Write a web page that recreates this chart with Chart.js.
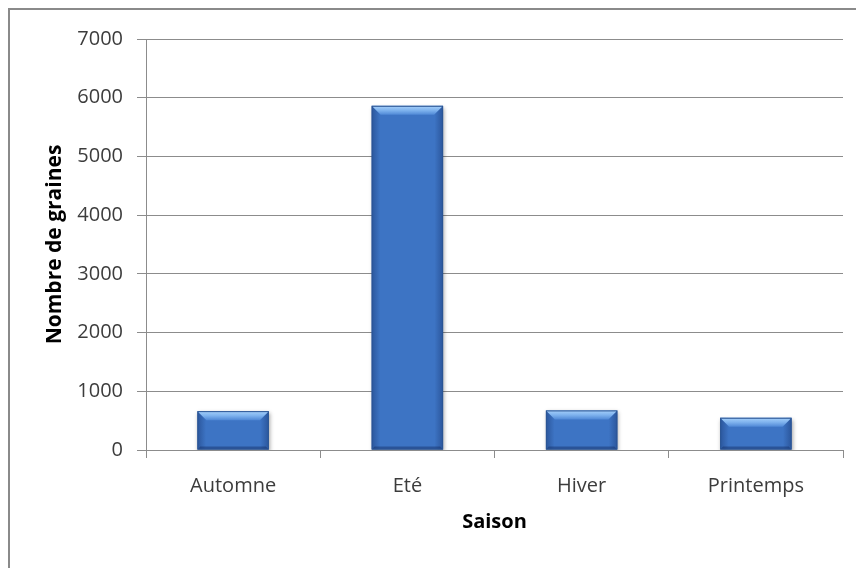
<!DOCTYPE html>
<html>
<head>
<meta charset="utf-8">
<script src="https://cdn.jsdelivr.net/npm/chart.js@4"></script>
<style>
  html, body { margin: 0; padding: 0; background: #fff; }
  #wrap { position: relative; width: 856px; height: 568px; overflow: hidden; }
  #frame { position: absolute; left: 8px; top: 8px; width: 900px; height: 600px;
           border-left: 2px solid #8a8a8a; border-top: 2px solid #8a8a8a; }
  canvas { position: absolute; left: 0; top: 0; }
</style>
</head>
<body>
<div id="wrap">
  <div id="frame"></div>
  <canvas id="graines" width="856" height="568"></canvas>
</div>
<script>
  // Nombre de graines par saison
  var saisons = ["Automne", "Eté", "Hiver", "Printemps"];
  var graines = [662, 5862, 674, 549];
  var yMax = 7000;
  var yStep = 1000;

  Chart.defaults.font.family = "'Open Sans', sans-serif";
  Chart.defaults.color = '#3c3c3c';

  // ombre portée sous les barres
  var ombre = {
    id: 'ombre',
    beforeDatasetsDraw: function (chart) {
      var ctx = chart.ctx;
      ctx.save();
      ctx.shadowColor = 'rgba(0,0,0,0.35)';
      ctx.shadowBlur = 4;
      ctx.shadowOffsetX = 1;
      ctx.shadowOffsetY = 2;
    },
    afterDatasetsDraw: function (chart) {
      chart.ctx.restore();
    }
  };

  // relief biseauté façon Excel
  var biseau = {
    id: 'biseau',
    afterDatasetsDraw: function (chart) {
      var ctx = chart.ctx;
      chart.getDatasetMeta(0).data.forEach(function (bar) {
        var p = bar.getProps(['x', 'y', 'base', 'width'], true);
        var l = p.x - p.width / 2, r = p.x + p.width / 2;
        var t = Math.min(p.y, p.base), b = Math.max(p.y, p.base);
        var e = 9;
        ctx.save();
        // assombrir les côtés
        var g = ctx.createLinearGradient(l, 0, r, 0);
        g.addColorStop(0, 'rgba(10,30,80,0.35)');
        g.addColorStop(0.12, 'rgba(10,30,80,0)');
        g.addColorStop(0.88, 'rgba(10,30,80,0)');
        g.addColorStop(1, 'rgba(10,30,80,0.35)');
        ctx.fillStyle = g;
        ctx.fillRect(l, t, r - l, b - t);
        // bord supérieur clair
        var gt = ctx.createLinearGradient(0, t, 0, t + e);
        gt.addColorStop(0, '#a6d0fa');
        gt.addColorStop(0.5, '#7fb3ee');
        gt.addColorStop(1, '#4f88d6');
        ctx.fillStyle = gt;
        ctx.beginPath();
        ctx.moveTo(l, t);
        ctx.lineTo(r, t);
        ctx.lineTo(r - e, t + e);
        ctx.lineTo(l + e, t + e);
        ctx.closePath();
        ctx.fill();
        // bord inférieur sombre
        ctx.fillStyle = 'rgba(20,45,100,0.45)';
        ctx.beginPath();
        ctx.moveTo(l, b);
        ctx.lineTo(r, b);
        ctx.lineTo(r - 3, b - 3);
        ctx.lineTo(l + 3, b - 3);
        ctx.closePath();
        ctx.fill();
        ctx.strokeStyle = '#2b5594';
        ctx.lineWidth = 1;
        ctx.strokeRect(l + 0.5, t + 0.5, r - l - 1, b - t - 1);
        ctx.restore();
      });
    }
  };

  var grainesChart = new Chart(document.getElementById("graines"), {
    type: 'bar',
    data: {
      labels: saisons,
      datasets: [
        {
          label: "Nombre de graines",
          data: graines,
          backgroundColor: '#3d74c4',
          borderWidth: 0,
          categoryPercentage: 1,
          barPercentage: 0.41
        }
      ]
    },
    options: {
      responsive: false,
      animation: false,
      layout: {
        padding: { left: 0, top: 39, right: 13, bottom: 0 }
      },
      plugins: {
        legend: { display: false },
        tooltip: { enabled: false }
      },
      scales: {
        x: {
          afterFit: function (scale) { scale.height = 568 - 450; },
          grid: {
            display: true,
            drawOnChartArea: false,
            drawTicks: true,
            tickLength: 8,
            color: '#8c8c8c'
          },
          border: { color: '#8c8c8c' },
          ticks: {
            padding: 16,
            font: { size: 20 },
            color: '#3c3c3c'
          },
          title: {
            display: true,
            text: 'Saison',
            font: { size: 20, weight: 'bold' },
            color: '#000',
            padding: { top: 0, bottom: 34 }
          }
        },
        y: {
          min: 0,
          max: yMax,
          afterFit: function (scale) { scale.width = 146; },
          grid: {
            color: '#8c8c8c',
            tickLength: 9
          },
          border: { color: '#8c8c8c' },
          ticks: {
            stepSize: yStep,
            padding: 14,
            font: { size: 20 },
            color: '#3c3c3c',
            callback: function (v) { return String(v); }
          },
          title: {
            display: true,
            text: 'Nombre de graines',
            font: { size: 21, weight: 'bold' },
            color: '#000',
            padding: { top: 42, bottom: 0 }
          }
        }
      }
    },
    plugins: [ombre, biseau]
  });
</script>
</body>
</html>
